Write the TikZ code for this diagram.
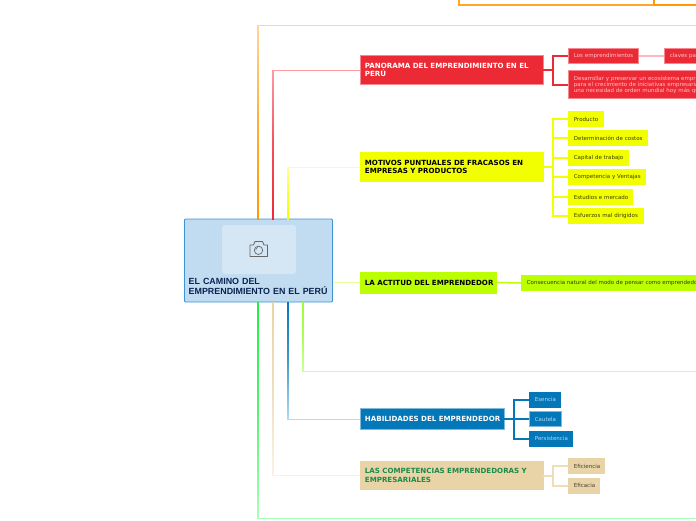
\documentclass[tikz,border=0pt]{standalone}
\usepackage{fontspec}
\setmainfont{DejaVu Sans}
\newfontfamily\raizfont{Liberation Sans}
\usetikzlibrary{calc}
\definecolor{naranja}{HTML}{FF9900}
\definecolor{naranjap}{HTML}{FFD699}
\definecolor{rojo}{HTML}{EC2A35}
\definecolor{rojop}{HTML}{FF9AA2}
\definecolor{rojob}{HTML}{F9878F}
\definecolor{amarillo}{HTML}{F2FF00}
\definecolor{amarillop}{HTML}{FFFF99}
\definecolor{lima}{HTML}{BBFF00}
\definecolor{limap}{HTML}{E6FF99}
\definecolor{verde}{HTML}{99FF33}
\definecolor{verdep}{HTML}{CCFF99}
\definecolor{azul}{HTML}{0377B8}
\definecolor{azulp}{HTML}{B5DAF0}
\definecolor{azulb}{HTML}{7FB9DC}
\definecolor{tostado}{HTML}{E8D4A6}
\definecolor{tostadop}{HTML}{F9F2E4}
\definecolor{tostadol}{HTML}{EDDDB9}
\definecolor{menta}{HTML}{22EE44}
\definecolor{mentap}{HTML}{AAFFBB}
\definecolor{cielo}{HTML}{C1DCF0}
\definecolor{cielob}{HTML}{3B94D6}
\definecolor{cielof}{HTML}{D5E6F4}
\definecolor{tinta}{HTML}{0A2350}
\tikzset{
  rama/.style={anchor=west,inner xsep=4.5pt,inner ysep=0pt,text width=#1,align=left,line width=.8pt,
    font=\fontsize{7.1}{8}\selectfont\bfseries},
  hoja/.style={anchor=west,inner xsep=5.5pt,inner ysep=0pt,text width=#1,align=left,line width=.8pt,
    minimum height=15pt,font=\fontsize{5.5}{6}\selectfont},
  enlace/.style={line width=1pt,line join=miter},
  bus/.style={line width=2pt,line join=miter}
}
\begin{document}
\begin{tikzpicture}[x=1pt,y=-1pt]
\useasboundingbox (0,0) rectangle (696,520);
\clip (0,0) rectangle (696,520);
% coordinates on the central box and free ends
\coordinate (n1) at (258,219);
\coordinate (n2) at (273,219);
\coordinate (n3) at (288,219);
\coordinate (s1) at (258,302);
\coordinate (s2) at (273,302);
\coordinate (s3) at (288,302);
\coordinate (s4) at (303,302);
\coordinate (finarriba) at (696,25.5);
\coordinate (finlima) at (696,371.5);
\coordinate (finabajo) at (696,518);
\coordinate (top1) at (459,-3);
\coordinate (top2) at (654,-3);
\coordinate (top3) at (696,5);
% central box
\node[draw=cielob,fill=cielo,line width=.9pt,rounded corners=1pt,minimum width=148pt,minimum height=83pt,inner sep=0pt] (raiz) at (258.5,260.5) {};
\node[fill=cielof,rounded corners=3pt,minimum width=74pt,minimum height=49pt,inner sep=0pt] (foto) at (259,249.5) {};
\node[anchor=south west,inner sep=0pt,text width=142pt,align=left,text=tinta,font=\raizfont\fontsize{8.9}{10}\selectfont\bfseries] (titulo) at (188.5,295) {EL CAMINO DEL\\EMPRENDIMIENTO EN EL PERÚ};
% branches
\node[rama=173.5pt,minimum height=28.5pt,fill=rojo,draw=rojob,text=white] (panorama) at (360,70) {PANORAMA DEL EMPRENDIMIENTO EN EL\\PERÚ};
\node[rama=173.5pt,minimum height=28.5pt,fill=amarillo,draw=amarillo,text=black] (motivos) at (360,167) {MOTIVOS PUNTUALES DE FRACASOS EN\\EMPRESAS Y PRODUCTOS};
\node[rama=126.5pt,minimum height=21pt,fill=lima,draw=lima,text=black] (actitud) at (360,282.5) {\mbox{LA ACTITUD DEL EMPRENDEDOR}};
\node[rama=134.5pt,minimum height=21pt,fill=azul,draw=azulb,text=white] (habilidades) at (360,419) {\mbox{HABILIDADES DEL EMPRENDEDOR}};
\node[rama=173.5pt,minimum height=28.5pt,fill=tostado,draw=tostado,text={rgb,255:red,28;green,138;blue,74},font=\fontsize{7.1}{9}\selectfont\bfseries] (competencias) at (360,475.5) {LAS COMPETENCIAS EMPRENDEDORAS Y\\EMPRESARIALES};
% leaves
\node[hoja=59pt,fill=rojo,draw=rojob,text=rojop!60!white] (los) at (568,56) {\mbox{Los emprendimientos}};
\node[hoja=60pt,fill=rojo,draw=rojob,text=rojop!60!white] (claves) at (664,56) {claves par};
\node[hoja=160pt,minimum height=27.5pt,fill=rojo,draw=rojob,text=rojop!60!white] (desarrollar) at (568,84.5) {Desarrollar y preservar un ecosistema empr\\para el crecimiento de iniciativas empresaria\\una necesidad de orden mundial hoy más qu};
\foreach \n/\w/\y/\t in {producto/24/119/Producto,costos/67.5/138/Determinación de costos,capital/49/158/Capital de trabajo,ventajas/66/177/Competencia y Ventajas,estudios/53/197/Estudios e mercado,esfuerzos/63.5/216/Esfuerzos mal dirigidos}
  \node[hoja=\w pt,fill=amarillo,draw=amarillo,text=black!75!amarillo] (\n) at (568,\y) {\mbox{\t}};
\node[hoja=190pt,fill=lima,draw=lima,text=black!75!lima] (consecuencia) at (521,283) {\mbox{Consecuencia natural del modo de pensar como emprendedor}};
\node[hoja=20pt,fill=azul,draw=azul,text=azulp] (esencia) at (529,399.5) {\mbox{Esencia}};
\node[hoja=20.5pt,fill=azul,draw=azulb,text=azulp] (cautela) at (529,419) {\mbox{Cautela}};
\node[hoja=32pt,fill=azul,draw=azul,text=azulp] (persistencia) at (529,438.5) {\mbox{Persistencia}};
\node[hoja=25pt,fill=tostado,draw=tostado,text=black!70!tostado] (eficiencia) at (568,466) {\mbox{Eficiencia}};
\node[hoja=20pt,fill=tostado,draw=tostado,text=black!70!tostado] (eficacia) at (568,485.5) {\mbox{Eficacia}};
% camera
\draw[draw=black!60,line width=.8pt,line join=round] (250,245) -- (253.5,245) -- (255,241.5) -- (262.5,241.5) -- (264,245) -- (267.5,245) -- (267.5,256.5) -- (250,256.5) -- cycle;
\draw[draw=black!60,line width=.7pt] (258.5,250.3) circle (4.2);
\draw[draw=black!60,line width=.5pt] (255.8,250) arc[start angle=180,end angle=260,radius=2.6];
% lines out of the central box
\draw[enlace,naranjap] (n1) |- (finarriba);
\draw[enlace,rojop] (n2) |- (panorama.west);
\draw[enlace,amarillop] (n3) |- (motivos.west);
\draw[enlace,limap] (raiz.east |- actitud.west) -- (actitud.west);
\draw[enlace,azulp] (s3) |- (habilidades.west);
\draw[enlace,tostadop] (s2) |- (competencias.west);
\draw[enlace,verdep] (s4) |- (finlima);
\draw[enlace,mentap] (s1) |- (finabajo);
\foreach \a/\b/\c/\d in {n1/finarriba/naranja/naranjap,n2/panorama/rojo/rojop,n3/motivos/amarillo/amarillop}
  \shade[bottom color=\c,top color=\d,middle color=\c!65!\d] ($(\a)+(-.9,0)$) rectangle ($(\a |- \b)+(.9,0)$);
\foreach \a/\b/\c/\d in {s1/finabajo/menta/mentap,s2/competencias/tostado/tostadop,s3/habilidades/azul/azulp,s4/finlima/verde/verdep}
  \shade[top color=\c,bottom color=\d,middle color=\c!65!\d] ($(\a)+(-.9,0)$) rectangle ($(\a |- \b)+(.9,0)$);
% orange line at the top edge
\draw[line width=2.2pt,naranja!85!white] (top1) |- (top3);
\draw[line width=2.6pt,naranja] (top2) |- (top3);
% branch to leaves
\foreach \v in {los,desarrollar}
  \draw[bus,rojo] (panorama.east) -- ++(9.5,0) |- (\v.west);
\foreach \v in {producto,costos,capital,ventajas,estudios,esfuerzos}
  \draw[bus,amarillo] (motivos.east) -- ++(9.5,0) |- (\v.west);
\foreach \v in {esencia,cautela,persistencia}
  \draw[bus,azul] (habilidades.east) -- ++(10,0) |- (\v.west);
\foreach \v in {eficiencia,eficacia}
  \draw[bus,tostadol] (competencias.east) -- ++(9.5,0) |- (\v.west);
\draw[line width=1.5pt,lima] (actitud.east) -- (consecuencia.west);
\draw[line width=1.4pt,rojop!70!white] (los.east) -- (claves.west);
\end{tikzpicture}
\end{document}
